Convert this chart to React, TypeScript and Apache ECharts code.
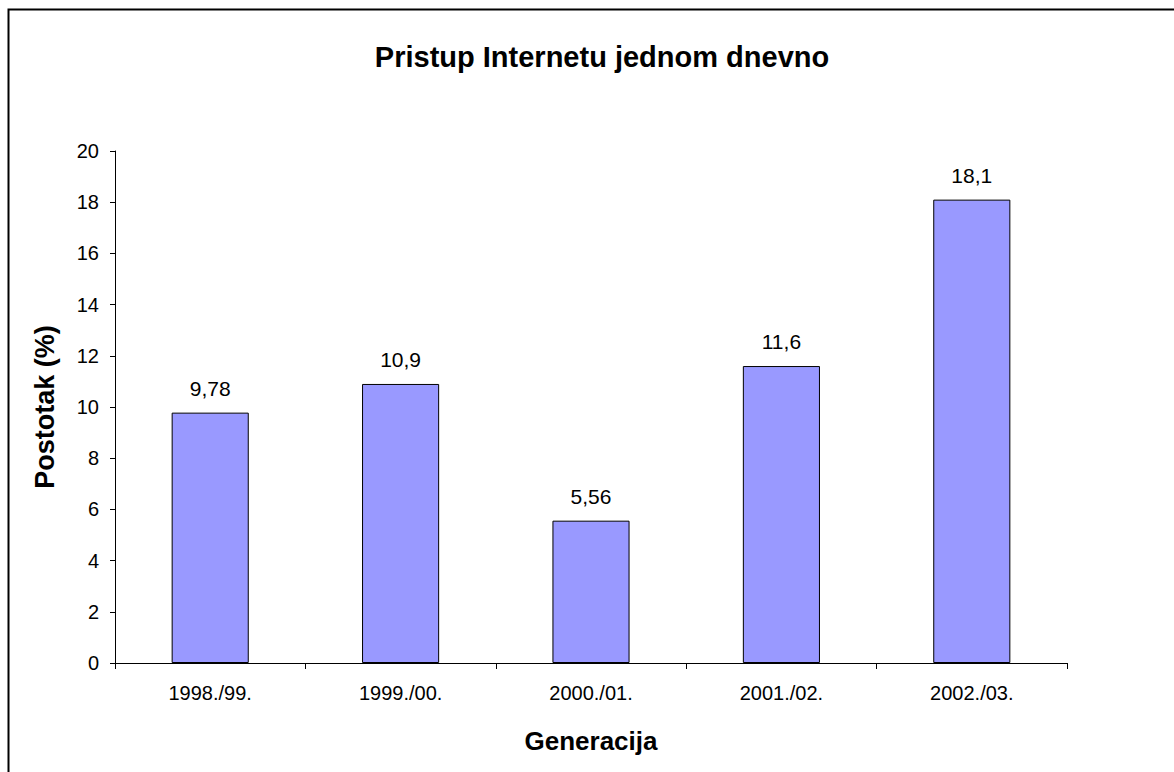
import React, { useEffect, useRef } from "react";
import * as echarts from "echarts";

const categories = ["1998./99.", "1999./00.", "2000./01.", "2001./02.", "2002./03."];
const values = [9.78, 10.9, 5.56, 11.6, 18.1];
const valueLabels = ["9,78", "10,9", "5,56", "11,6", "18,1"];

export default function App() {
  const ref = useRef<HTMLDivElement>(null);
  useEffect(() => {
    const chart = echarts.init(ref.current!, null, { renderer: "svg" });
    const font = "Arial, 'Liberation Sans', sans-serif";
    chart.setOption({
      animation: false,
      backgroundColor: "#ffffff",
      title: {
        text: "Pristup Internetu jednom dnevno",
        left: 597,
        top: 37,
        textAlign: "center",
        textStyle: { fontFamily: font, fontSize: 29, fontWeight: "bold", color: "#000" },
      },
      graphic: [
        {
          type: "rect",
          shape: { x: 8.5, y: 9.5, width: 1200, height: 800 },
          style: { fill: "none", stroke: "#000", lineWidth: 2 },
          silent: true,
        },
      ],
      grid: { left: 115, right: 107, top: 151, bottom: 109 },
      xAxis: {
        type: "category",
        data: categories,
        name: "Generacija",
        nameLocation: "middle",
        nameGap: 65,
        nameTextStyle: { fontFamily: font, fontSize: 26, fontWeight: "bold", color: "#000" },
        axisLine: { lineStyle: { color: "#000", width: 1 } },
        axisTick: { show: true, length: 6, alignWithLabel: false, lineStyle: { color: "#000" } },
        axisLabel: { fontFamily: font, fontSize: 20, color: "#000", margin: 20 },
        splitLine: { show: false },
      },
      yAxis: {
        type: "value",
        min: 0,
        max: 20,
        interval: 2,
        name: "Postotak (%)",
        nameLocation: "middle",
        nameGap: 57,
        nameRotate: 90,
        nameTextStyle: { fontFamily: font, fontSize: 27, fontWeight: "bold", color: "#000" },
        axisLine: { show: true, lineStyle: { color: "#000", width: 1 } },
        axisTick: { show: true, length: 5, lineStyle: { color: "#000" } },
        axisLabel: { fontFamily: font, fontSize: 20, color: "#000", margin: 16 },
        splitLine: { show: false },
      },
      series: [
        {
          type: "bar",
          data: values,
          barWidth: "40.5%",
          itemStyle: { color: "#9999ff", borderColor: "#000", borderWidth: 1 },
          label: {
            show: true,
            position: "top",
            distance: 14,
            fontFamily: font,
            fontSize: 21,
            color: "#000",
            formatter: (p: any) => valueLabels[p.dataIndex],
          },
        },
      ],
    });
    return () => chart.dispose();
  }, []);
  return (
    <div
      ref={ref}
      style={{ position: "absolute", left: 0, top: 0, width: 1174, height: 772 }}
    />
  );
}
